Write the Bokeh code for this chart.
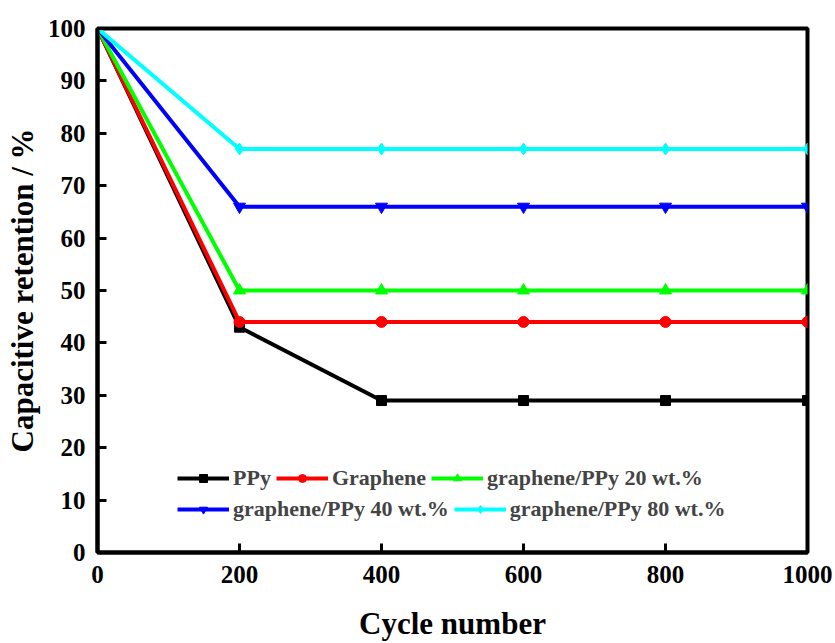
from bokeh.plotting import figure
from bokeh.models import Legend, LegendItem, Range1d, FixedTicker
from bokeh.embed import file_html
from bokeh.resources import INLINE

cycles = [0, 200, 400, 600, 800, 1000]
ppy = [100, 43, 29, 29, 29, 29]
graphene = [100, 44, 44, 44, 44, 44]
gp20 = [100, 50, 50, 50, 50, 50]
gp40 = [100, 66, 66, 66, 66, 66]
gp80 = [100, 77, 77, 77, 77, 77]

names = ["PPy", "Graphene", "graphene/PPy 20 wt.%", "graphene/PPy 40 wt.%", "graphene/PPy 80 wt.%"]
series = [ppy, graphene, gp20, gp40, gp80]
colors = ["#000000", "#FF0000", "#00FF00", "#0000FF", "#00FFFF"]
markers = ["square", "circle", "triangle", "inverted_triangle", "diamond"]
sizes = [10, 11, 12, 12, 12]

FONT = "Liberation Serif"

p = figure(width=835, height=643, output_backend="svg", toolbar_location=None,
           x_range=Range1d(0, 1000), y_range=Range1d(0, 100),
           min_border_left=97, min_border_right=28, min_border_top=28, min_border_bottom=90)
p.grid.visible = False
p.outline_line_color = "black"
p.outline_line_width = 4
p.background_fill_color = "white"
p.border_fill_color = "white"

items = []
for name, ys, c, m, s in zip(names, series, colors, markers, sizes):
    r1 = p.line(cycles, ys, line_color=c, line_width=4)
    r2 = p.scatter(cycles, ys, marker=m, size=s, fill_color=c, line_color=c)
    items.append(LegendItem(label=name, renderers=[r1, r2]))

def mk_legend(its, loc):
    lg = Legend(items=its, location=loc, orientation="horizontal",
                border_line_color=None, background_fill_alpha=0,
                label_text_font=FONT, label_text_font_style="bold",
                label_text_font_size="22px", glyph_width=52, glyph_height=20,
                label_standoff=4, spacing=5, padding=0, margin=0,
                label_height=20)
    p.add_layout(lg, "center")

mk_legend(items[:3], (80, 61))
mk_legend(items[3:], (80, 30))

for ax in [p.xaxis[0], p.yaxis[0]]:
    ax.axis_line_width = 4
    ax.major_tick_line_width = 3
    ax.major_tick_in = 9
    ax.major_tick_out = 0
    ax.minor_tick_line_color = None
    ax.major_label_text_font = FONT
    ax.major_label_text_font_style = "bold"
    ax.major_label_text_font_size = "25px"
    ax.major_label_text_color = "black"
    ax.axis_label_text_font = FONT
    ax.axis_label_text_font_style = "bold"
    ax.axis_label_text_font_size = "31px"
    ax.axis_label_text_color = "black"

p.xaxis.ticker = FixedTicker(ticks=[0, 200, 400, 600, 800, 1000])
p.yaxis.ticker = FixedTicker(ticks=list(range(0, 101, 10)))
p.xaxis.axis_label = "Cycle number"
p.yaxis.axis_label = "Capacitive retention / %"
p.xaxis.major_label_standoff = 13
p.yaxis.major_label_standoff = 12
p.xaxis.axis_label_standoff = 20
p.yaxis.axis_label_standoff = 5

open("out.html", "w").write(file_html(p, INLINE))
